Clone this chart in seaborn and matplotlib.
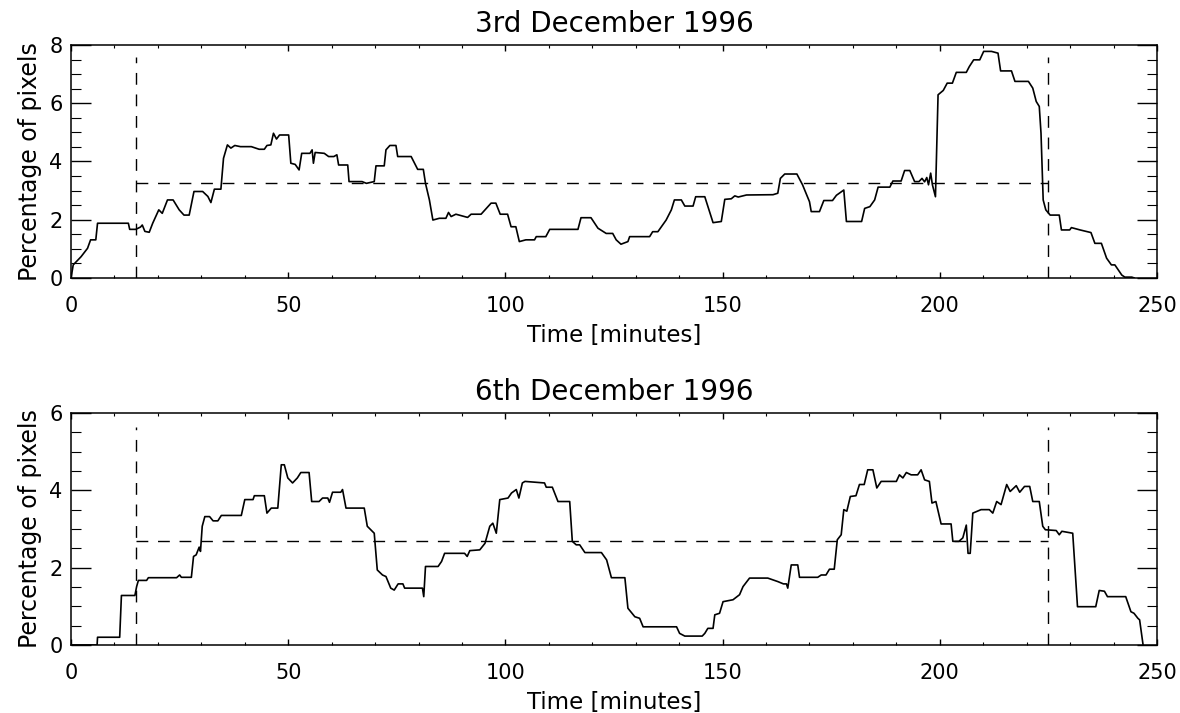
import matplotlib
matplotlib.use("Agg")
import matplotlib.pyplot as plt
import pandas as pd
import seaborn as sns
from matplotlib.ticker import MultipleLocator

# ---------------- data ----------------
dec3_time = [0, 0.5, 2.3, 3.8, 4.5, 5.7, 6.1, 13.2, 13.5, 14.9, 16.0, 16.4, 17.0, 18.0, 18.8,
             20.2, 21.0, 22.2, 23.5, 24.9, 26.0, 27.2, 28.3, 30.3, 31.5, 32.2, 33.0, 34.5, 35.1,
             36.0, 36.8, 37.7, 39.0, 41.5, 43.3, 44.5, 45.1, 46.0, 46.6, 47.3, 48.0, 50.1, 50.6,
             51.6, 52.5, 53.1, 55.0, 55.5, 55.8, 56.2, 58.3, 59.3, 60.5, 61.2, 61.6, 63.7, 64.0,
             67.0, 68.0, 69.8, 70.2, 72.1, 72.5, 73.4, 74.8, 75.2, 78.3, 79.8, 81.1, 81.6, 82.5,
             83.3, 84.8, 86.3, 86.9, 87.5, 88.6, 91.3, 92.1, 94.4, 96.7, 97.8, 98.8, 100.5, 101.3,
             102.4, 103.2, 104.7, 106.7, 107.1, 109.3, 110.2, 116.7, 117.4, 119.7, 121.3, 123.2,
             124.7, 125.5, 126.6, 128.2, 128.6, 133.2, 133.9, 135.1, 135.9, 137.0, 138.2, 138.9,
             140.5, 141.3, 143.2, 143.8, 145.9, 147.8, 149.7, 150.5, 152.0, 152.8, 153.6, 155.5,
             161.6, 162.7, 163.3, 164.3, 167.1, 168.4, 170.0, 170.4, 172.3, 173.3, 175.3, 176.2,
             177.9, 178.5, 182.0, 182.7, 183.9, 185.0, 185.8, 188.5, 189.2, 191.1, 191.9, 193.1,
             194.2, 195.2, 195.9, 196.5, 197.0, 197.4, 197.9, 198.3, 199.0, 199.6, 200.8, 201.7,
             202.9, 203.8, 206.1, 206.8, 207.8, 209.2, 210.1, 211.9, 213.4, 214.0, 216.5, 217.3,
             220.4, 221.4, 222.2, 222.9, 223.3, 223.8, 224.4, 225.4, 227.5, 228.0, 229.9, 230.3,
             232.3, 234.8, 235.7, 237.2, 238.4, 239.5, 240.3, 241.9, 242.6, 244.2, 244.8]
dec3_pct = [0.0, 0.45, 0.73, 1.02, 1.31, 1.31, 1.88, 1.88, 1.67, 1.67, 1.75, 1.82, 1.60, 1.57, 1.88,
            2.34, 2.22, 2.68, 2.68, 2.34, 2.16, 2.16, 2.97, 2.97, 2.80, 2.59, 3.05, 3.05, 4.11,
            4.57, 4.46, 4.55, 4.51, 4.51, 4.42, 4.42, 4.55, 4.57, 4.97, 4.77, 4.91, 4.91, 3.94,
            3.90, 3.71, 4.28, 4.28, 4.40, 3.94, 4.31, 4.28, 4.17, 4.17, 4.23, 3.88, 3.88, 3.31,
            3.31, 3.25, 3.31, 3.85, 3.85, 4.40, 4.55, 4.55, 4.17, 4.17, 3.73, 3.73, 3.25, 2.68,
            1.99, 2.05, 2.05, 2.25, 2.11, 2.19, 2.08, 2.19, 2.19, 2.57, 2.57, 2.19, 2.19, 1.76,
            1.76, 1.25, 1.31, 1.31, 1.42, 1.42, 1.67, 1.67, 2.07, 2.07, 1.71, 1.53,
            1.53, 1.31, 1.16, 1.25, 1.42, 1.42, 1.59, 1.59, 1.76, 1.99, 2.34, 2.68,
            2.68, 2.47, 2.47, 2.79, 2.79, 1.90, 1.94, 2.70, 2.72, 2.82, 2.78, 2.85,
            2.86, 2.91, 3.42, 3.57, 3.57, 3.20, 2.62, 2.28, 2.28, 2.66, 2.66, 2.84,
            3.02, 1.94, 1.94, 2.39, 2.45, 2.68, 3.12, 3.12, 3.33, 3.33, 3.69, 3.69,
            3.31, 3.31, 3.42, 3.30, 3.45, 3.20, 3.60, 3.20, 2.79, 6.29, 6.44, 6.69,
            6.69, 7.06, 7.06, 7.26, 7.49, 7.49, 7.78, 7.78, 7.72, 7.11, 7.11, 6.75,
            6.75, 6.52, 6.06, 5.89, 4.97, 2.68, 2.34, 2.16, 2.16, 1.65, 1.65, 1.73,
            1.65, 1.56, 1.19, 1.19, 0.68, 0.45, 0.45, 0.10, 0.03, 0.03, 0.0]

dec6_time = [0, 6.0, 6.1, 11.2, 11.6, 14.7, 15.1, 15.5, 17.4, 17.8, 24.3, 25.0, 25.4, 27.7, 28.2,
             28.8, 29.5, 29.8, 30.2, 30.8, 31.9, 32.7, 33.8, 34.6, 39.2, 40.0, 41.9, 42.2, 44.5,
             45.1, 46.1, 47.6, 48.4, 49.1, 49.9, 51.0, 52.1, 52.9, 54.8, 55.4, 57.1, 57.9, 59.1,
             59.5, 60.2, 62.1, 62.5, 63.3, 67.5, 68.2, 69.8, 70.5, 71.7, 72.5, 73.6, 74.4, 75.3,
             76.4, 76.8, 80.9, 81.2, 81.6, 84.5, 85.3, 86.0, 90.6, 91.2, 91.8, 94.1, 95.3, 96.4,
             97.1, 97.9, 98.7, 100.6, 101.4, 102.5, 103.1, 103.9, 104.5, 109.0, 109.4, 110.8,
             112.1, 114.8, 115.4, 116.3, 117.1, 118.3, 122.1, 123.3, 124.4, 127.5, 128.2, 129.8,
             130.9, 131.7, 139.4, 140.1, 141.3, 145.3, 145.9, 146.6, 147.8, 148.2, 149.3, 150.1,
             152.4, 153.9, 154.7, 156.2, 160.4, 162.7, 164.0, 164.7, 165.0, 165.8, 167.3, 167.7,
             171.9, 172.7, 173.8, 174.6, 175.7, 176.4, 177.3, 177.9, 178.6, 179.4, 180.7, 181.5,
             182.6, 183.4, 184.6, 185.5, 186.5, 190.0, 190.7, 191.5, 192.3, 193.4, 194.9, 195.7,
             196.5, 197.6, 198.2, 199.1, 200.3, 202.6, 203.0, 204.4, 205.3, 206.1, 206.5, 207.0,
             207.6, 209.5, 211.4, 212.2, 213.1, 214.1, 215.4, 216.2, 217.6, 218.4, 219.5, 220.7,
             221.4, 222.9, 223.7, 224.3, 226.8, 227.5, 228.1, 230.6, 231.7, 235.9, 236.7, 237.9,
             238.6, 242.8, 244.0, 244.7, 245.6, 246.0, 246.8]
dec6_pct = [0.0, 0.0, 0.20, 0.20, 1.28, 1.28, 1.51, 1.67, 1.67, 1.74, 1.74, 1.81, 1.75, 1.75, 2.29,
            2.33, 2.53, 2.42, 3.07, 3.32, 3.32, 3.21, 3.21, 3.35, 3.35, 3.76, 3.76, 3.86, 3.86,
            3.41, 3.54, 3.54, 4.66, 4.66, 4.32, 4.19, 4.32, 4.46, 4.46, 3.71, 3.71, 3.80, 3.80,
            3.69, 3.95, 3.95, 4.02, 3.54, 3.54, 3.07, 2.89, 1.94, 1.81, 1.77, 1.47, 1.42, 1.58,
            1.58, 1.47, 1.47, 1.25, 2.03, 2.03, 2.16, 2.37, 2.37, 2.29, 2.44, 2.46, 2.63, 3.07,
            3.15, 2.89, 3.76, 3.80, 3.93, 4.02, 3.80, 4.19, 4.23, 4.19, 4.08, 4.08,
            3.71, 3.71, 2.68, 2.59, 2.59, 2.39, 2.39, 2.20, 1.74, 1.74, 0.95, 0.73,
            0.69, 0.47, 0.47, 0.30, 0.23, 0.23, 0.30, 0.43, 0.43, 0.78, 0.82, 1.12,
            1.17, 1.30, 1.51, 1.73, 1.73, 1.64, 1.58, 1.58, 1.47, 2.07, 2.07, 1.75,
            1.75, 1.81, 1.81, 1.96, 1.96, 2.72, 2.85, 3.50, 3.46, 3.84, 3.86, 4.15,
            4.15, 4.53, 4.53, 4.06, 4.23, 4.23, 4.40, 4.32, 4.46, 4.40, 4.40, 4.53,
            4.27, 4.23, 3.67, 3.71, 3.13, 3.13, 2.68, 2.68, 2.77, 3.10, 2.37, 2.37,
            3.41, 3.50, 3.50, 3.41, 3.71, 3.63, 4.15, 3.97, 4.12, 3.95, 4.10, 4.10,
            3.71, 3.71, 3.07, 2.98, 2.96, 2.85, 2.94, 2.89, 0.99, 0.99, 1.41, 1.39,
            1.25, 1.25, 0.86, 0.82, 0.69, 0.65, 0.0]

titles = ["3rd December 1996", "6th December 1996"]
mean_levels = [3.25, 2.70]          # horizontal dashed level
window = [15, 225]                  # vertical dashed lines (minutes)
window_top = [7.6, 5.65]            # height of the vertical dashed lines
y_max = [8, 6]

# ---------------- style ----------------
sns.set_style("ticks")
plt.rcParams['font.family'] = ['DejaVu Sans']
plt.rcParams.update({
    'xtick.direction': 'in', 'ytick.direction': 'in',
    'xtick.top': True, 'ytick.right': True,
    'axes.linewidth': 1.1,
    'axes.edgecolor': 'black',
    'text.color': 'black', 'axes.labelcolor': 'black',
    'xtick.color': 'black', 'ytick.color': 'black',
})

fig = plt.figure(figsize=(11.8, 7.13), dpi=100)
ax1 = fig.add_axes([0.0602, 0.6101, 0.9203, 0.3268])
ax2 = fig.add_axes([0.0602, 0.0954, 0.9203, 0.3254])

dash = (0, (8.5, 7.0))
series = [(dec3_time, dec3_pct), (dec6_time, dec6_pct)]

for i, ax in enumerate([ax1, ax2]):
    t, v = series[i]
    df = pd.DataFrame({"Time": t, "Pct": v})
    sns.lineplot(data=df, x="Time", y="Pct", ax=ax, color="black",
                 linewidth=1.2, estimator=None, sort=False, legend=False)
    # observation window and mean level
    for w in window:
        ax.plot([w, w], [0, window_top[i]], color="black", lw=1.0, ls=dash)
    ax.plot(window, [mean_levels[i]] * 2, color="black", lw=1.0, ls=dash)

    ax.set_xlim(0, 250)
    ax.set_ylim(0, y_max[i])
    ax.xaxis.set_major_locator(MultipleLocator(50))
    ax.xaxis.set_minor_locator(MultipleLocator(10))
    ax.yaxis.set_major_locator(MultipleLocator(2))
    ax.yaxis.set_minor_locator(MultipleLocator(0.5))
    ax.tick_params(axis='x', which='major', length=4.0, width=1.0, pad=13, labelsize=15)
    ax.tick_params(axis='x', which='minor', length=2.0, width=0.8)
    ax.tick_params(axis='y', which='major', length=14.5, width=1.0, pad=6, labelsize=15)
    ax.tick_params(axis='y', which='minor', length=7.5, width=0.8)

    ax.set_xlabel("Time [minutes]", fontsize=16.5, labelpad=6)
    ax.set_ylabel("Percentage of pixels", fontsize=17, labelpad=5)
    ax.set_title(titles[i], fontsize=20, pad=9)

fig.savefig("out.png", dpi=100)
